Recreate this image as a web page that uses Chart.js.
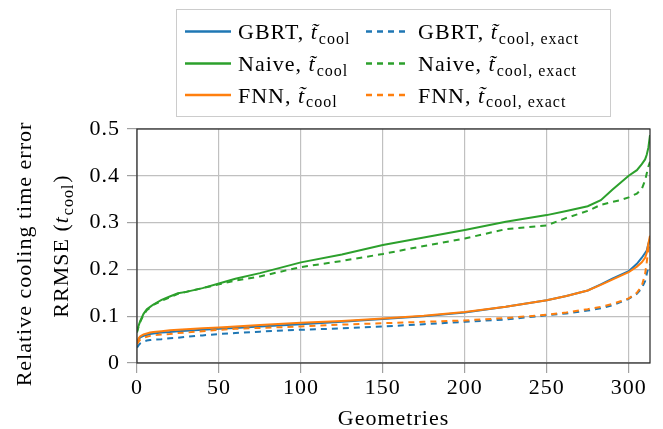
<!DOCTYPE html>
<html>
<head>
<meta charset="utf-8">
<script src="https://cdn.jsdelivr.net/npm/chart.js@4.4.0/dist/chart.umd.min.js"></script>
<style>
body { margin: 0; background: #fff; }
canvas { display: block; }
</style>
</head>
<body>
<canvas id="chart" width="663" height="429"></canvas>
<script>
var geometries = [0, 1, 2, 4, 6, 8, 10, 15, 20, 25, 30, 40, 50, 60, 75, 100, 125, 150, 175, 200, 225, 250, 262, 275, 283, 290, 295, 300, 305, 308, 310, 311, 312, 313];

var gbrtCool = [0.042, 0.05, 0.055, 0.058, 0.06, 0.062, 0.063, 0.065, 0.066, 0.068, 0.069, 0.071, 0.073, 0.075, 0.078, 0.083, 0.088, 0.094, 0.1, 0.108, 0.12, 0.134, 0.143, 0.155, 0.168, 0.18, 0.188, 0.196, 0.212, 0.225, 0.235, 0.24, 0.255, 0.265];
var gbrtExact = [0.033, 0.038, 0.042, 0.046, 0.048, 0.049, 0.05, 0.051, 0.053, 0.054, 0.056, 0.059, 0.062, 0.064, 0.067, 0.071, 0.074, 0.078, 0.083, 0.088, 0.093, 0.102, 0.106, 0.112, 0.117, 0.123, 0.13, 0.137, 0.148, 0.16, 0.175, 0.19, 0.205, 0.21];
var naiveCool = [0.068, 0.08, 0.09, 0.105, 0.115, 0.12, 0.125, 0.135, 0.142, 0.149, 0.152, 0.16, 0.17, 0.18, 0.192, 0.215, 0.232, 0.252, 0.268, 0.284, 0.302, 0.316, 0.325, 0.335, 0.348, 0.37, 0.385, 0.4, 0.412, 0.425, 0.435, 0.445, 0.46, 0.487];
var naiveExact = [0.065, 0.078, 0.088, 0.103, 0.113, 0.118, 0.124, 0.133, 0.14, 0.148, 0.152, 0.16, 0.168, 0.176, 0.185, 0.205, 0.218, 0.233, 0.25, 0.266, 0.286, 0.294, 0.31, 0.325, 0.338, 0.344, 0.348, 0.354, 0.362, 0.372, 0.39, 0.405, 0.42, 0.43];
var fnnCool = [0.045, 0.053, 0.057, 0.061, 0.063, 0.065, 0.066, 0.068, 0.07, 0.071, 0.072, 0.074, 0.076, 0.078, 0.081, 0.086, 0.09, 0.095, 0.101, 0.109, 0.12, 0.134, 0.143, 0.155, 0.167, 0.178, 0.186, 0.194, 0.206, 0.215, 0.225, 0.235, 0.255, 0.272];
var fnnExact = [0.04, 0.046, 0.05, 0.054, 0.056, 0.058, 0.059, 0.061, 0.062, 0.064, 0.065, 0.068, 0.071, 0.073, 0.075, 0.078, 0.082, 0.085, 0.088, 0.091, 0.096, 0.103, 0.108, 0.115, 0.12, 0.126, 0.132, 0.138, 0.15, 0.165, 0.19, 0.215, 0.245, 0.26];

var xTicks = [0, 50, 100, 150, 200, 250, 300];
var yTicks = [0, 0.1, 0.2, 0.3, 0.4, 0.5];
var models = ['GBRT', 'Naive', 'FNN'];
var colors = ['#1f77b4', '#2ca02c', '#ff7f0e'];

var FONT = '"Liberation Serif", "Times New Roman", serif';
var SPACING = '1px';

function pts(ys) {
    return ys.map(function (y, i) { return { x: geometries[i], y: y } })
}

var series = [gbrtCool, gbrtExact, naiveCool, naiveExact, fnnCool, fnnExact];
var datasets = [];
for (var i = 0; i < series.length; i++) {
    var m = Math.floor(i / 2);
    datasets.push({
        label: models[m] + (i % 2 ? ', t_cool, exact' : ', t_cool'),
        data: pts(series[i]),
        borderColor: colors[m],
        borderWidth: 2,
        borderDash: i % 2 ? [6, 5] : [],
        pointRadius: 0,
        tension: 0,
        fill: false,
        order: series.length - i
    });
}

// text like "GBRT, t̃_cool" with a real subscript
function mathText(ctx, x, y, pre, tChar, sub, post, size, measureOnly) {
    var start = x;
    ctx.font = size + 'px ' + FONT;
    if (!measureOnly) ctx.fillText(pre, x, y);
    x += ctx.measureText(pre).width;
    ctx.font = 'italic ' + size + 'px ' + FONT;
    if (!measureOnly) ctx.fillText(tChar, x, y);
    x += ctx.measureText('t').width + 1;
    ctx.font = '16px ' + FONT;
    if (!measureOnly) ctx.fillText(sub, x, y + 4.5);
    x += ctx.measureText(sub).width;
    if (post) {
        ctx.font = size + 'px ' + FONT;
        if (!measureOnly) ctx.fillText(post, x + 1, y);
        x += ctx.measureText(post).width + 1;
    }
    return x - start;
}

var spacing = {
    id: 'spacing',
    beforeDraw: function (chart) { chart.ctx.letterSpacing = SPACING }
};

var decorations = {
    id: 'decorations',
    afterDraw: function (chart) {
        var ctx = chart.ctx, a = chart.chartArea;
        ctx.save();
        ctx.letterSpacing = SPACING;
        // axis box
        ctx.strokeStyle = '#262626';
        ctx.lineWidth = 1.2;
        ctx.strokeRect(a.left, a.top, a.right - a.left, a.bottom - a.top);

        ctx.fillStyle = '#000';
        ctx.textBaseline = 'alphabetic';
        // x title
        ctx.font = '22px ' + FONT;
        ctx.textAlign = 'center';
        ctx.fillText('Geometries', (a.left + a.right) / 2, 425);

        // y title, two lines
        var midY = (a.top + a.bottom) / 2;
        ctx.save();
        ctx.translate(31, midY + 8);
        ctx.rotate(-Math.PI / 2);
        ctx.font = '22px ' + FONT;
        ctx.textAlign = 'center';
        ctx.fillText('Relative cooling time error', 0, 0);
        ctx.restore();
        ctx.save();
        ctx.translate(68, midY);
        ctx.rotate(-Math.PI / 2);
        ctx.textAlign = 'left';
        var w = mathText(ctx, 0, 0, 'RRMSE (', 't', 'cool', ')', 22, true);
        mathText(ctx, -w / 2, 0, 'RRMSE (', 't', 'cool', ')', 22, false);
        ctx.restore();

        // legend
        ctx.strokeStyle = '#cccccc';
        ctx.lineWidth = 1;
        ctx.strokeRect(176.5, 9.5, 434, 107);
        var rows = [31.5, 63.5, 95];
        for (var r = 0; r < 3; r++) {
            for (var c = 0; c < 2; c++) {
                var lx = c ? 366 : 185, lw = c ? 40 : 46, tx = c ? 418 : 238;
                ctx.strokeStyle = colors[r];
                ctx.lineWidth = 2.5;
                ctx.setLineDash(c ? [6, 5] : []);
                ctx.beginPath();
                ctx.moveTo(lx, rows[r]);
                ctx.lineTo(lx + lw, rows[r]);
                ctx.stroke();
                ctx.setLineDash([]);
                ctx.textAlign = 'left';
                mathText(ctx, tx, rows[r] + 7.5, models[r] + ', ', 't\u0303', c ? 'cool, exact' : 'cool', '', 22, false);
            }
        }
        ctx.restore();
    }
};

var ctx = document.getElementById('chart').getContext('2d');
window.errChart = new Chart(ctx, {
    type: 'line',
    data: { datasets: datasets },
    options: {
        responsive: false,
        animation: false,
        layout: { padding: { top: 129, right: 13, left: 0, bottom: 0 } },
        plugins: { legend: { display: false }, tooltip: { enabled: false } },
        scales: {
            x: {
                type: 'linear',
                min: 0,
                max: 313,
                afterBuildTicks: function (s) { s.ticks = xTicks.map(function (v) { return { value: v } }) },
                afterFit: function (s) { s.height = 66 },
                grid: { color: '#c0c0c0', lineWidth: 1.2, tickColor: '#a0a0a0', tickLength: 10 },
                border: { display: false },
                ticks: { color: '#000', font: { family: FONT, size: 22 }, padding: 2, maxRotation: 0 }
            },
            y: {
                min: 0,
                max: 0.5,
                afterBuildTicks: function (s) { s.ticks = yTicks.map(function (v) { return { value: v } }) },
                afterFit: function (s) { s.width = 137 },
                grid: { color: '#c0c0c0', lineWidth: 1.2, tickColor: '#a0a0a0', tickLength: 10 },
                border: { display: false },
                ticks: {
                    color: '#000', font: { family: FONT, size: 22 }, padding: 7,
                    callback: function (v) { return v === 0 ? '0' : v.toFixed(1) }
                }
            }
        }
    },
    plugins: [spacing, decorations]
});
</script>
</body>
</html>
